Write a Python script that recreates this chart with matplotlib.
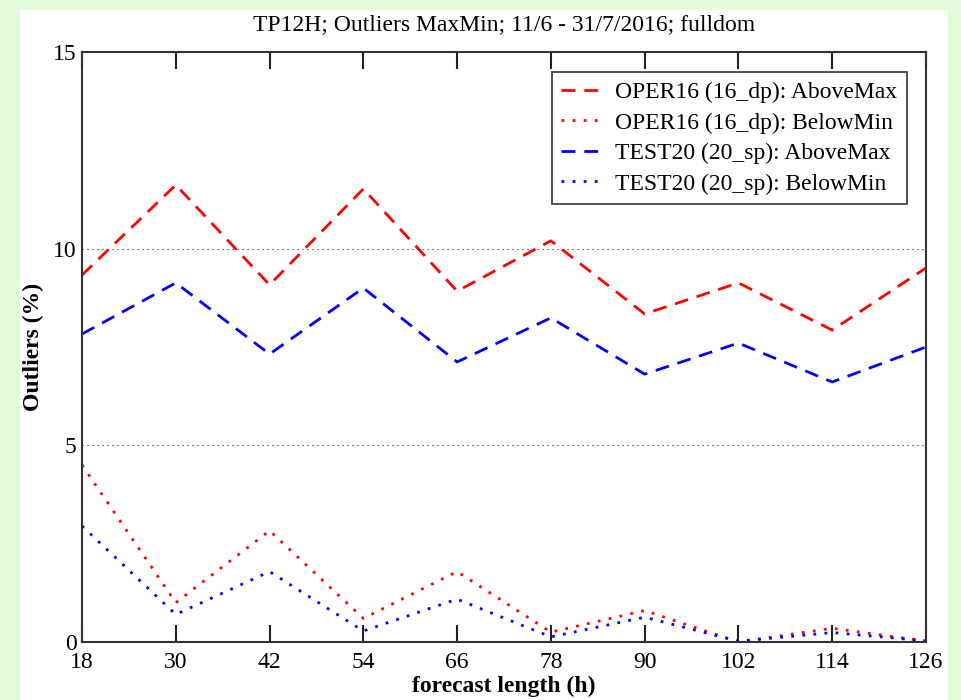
import matplotlib
matplotlib.use("Agg")
import matplotlib.pyplot as plt
from matplotlib.patches import Rectangle
import numpy as np

hours = [18, 30, 42, 54, 66, 78, 90, 102, 114, 126]
oper_above = [9.33, 11.62, 9.08, 11.52, 8.92, 10.2, 8.34, 9.13, 7.93, 9.51]
oper_below = [4.5, 1.0, 2.83, 0.6, 1.79, 0.25, 0.8, 0.0, 0.35, 0.02]
test_above = [7.83, 9.13, 7.32, 9.0, 7.12, 8.24, 6.81, 7.6, 6.61, 7.5]
test_below = [2.95, 0.7, 1.79, 0.28, 1.09, 0.13, 0.63, 0.02, 0.24, 0.03]
labels = ["OPER16 (16_dp): AboveMax", "OPER16 (16_dp): BelowMin",
          "TEST20 (20_sp): AboveMax", "TEST20 (20_sp): BelowMin"]
title = "TP12H; Outliers MaxMin; 11/6 - 31/7/2016; fulldom"

plt.rcParams['font.family'] = ['Liberation Serif', 'DejaVu Serif']

fig = plt.figure(figsize=(9.61, 7.0), dpi=100)
fig.patch.set_facecolor('#e2fcdb')
fig.patches.append(Rectangle((20/961, 0), (948-20)/961, 690/700,
                             transform=fig.transFigure, facecolor='white',
                             edgecolor='none', zorder=-5))

ax = fig.add_axes([82/961, 58/700, (926-82)/961, (642-52)/700])
ax.set_zorder(2)
dash = (0, (5, 3.2))
dot = (0, (1, 3))
ax.plot(hours, oper_above, color='red', lw=2, linestyle=dash, label=labels[0])
ax.plot(hours, oper_below, color='red', lw=2, linestyle=dot, label=labels[1])
ax.plot(hours, test_above, color='blue', lw=2, linestyle=dash, label=labels[2])
ax.plot(hours, test_below, color='blue', lw=2, linestyle=dot, label=labels[3])

ax.set_xlim(18, 126)
ax.set_ylim(0, 15)
ax.set_xticks(hours)
ax.set_yticks([0, 5, 10, 15])
for y in [5, 10]:
    ax.axhline(y, color='#222222', lw=0.8, linestyle=(0, (1, 3.5)), zorder=0)
ax.tick_params(axis='x', direction='in', length=12, width=1.5, top=True,
               labelsize=17, pad=7, color='#222222')
ax.tick_params(axis='y', length=0, labelsize=17, pad=4)
for s in ax.spines.values():
    s.set_linewidth(1.5)
    s.set_color('#333333')

ax.set_xlabel("forecast length (h)", fontsize=17, fontweight='bold', labelpad=2)
ax.set_ylabel("Outliers (%)", fontsize=17, fontweight='bold', labelpad=6)
ax.set_title(title, fontsize=17, pad=16)

leg = ax.legend(loc='upper right', bbox_to_anchor=(0.9775, 0.966), fontsize=17,
                handlelength=1.55, handletextpad=0.75, labelspacing=0.38,
                borderpad=0.4, borderaxespad=0, fancybox=False, framealpha=1)
leg.get_frame().set_edgecolor('#333333')
leg.get_frame().set_linewidth(1.2)

fig.savefig("out.png", dpi=100, facecolor=fig.get_facecolor())
